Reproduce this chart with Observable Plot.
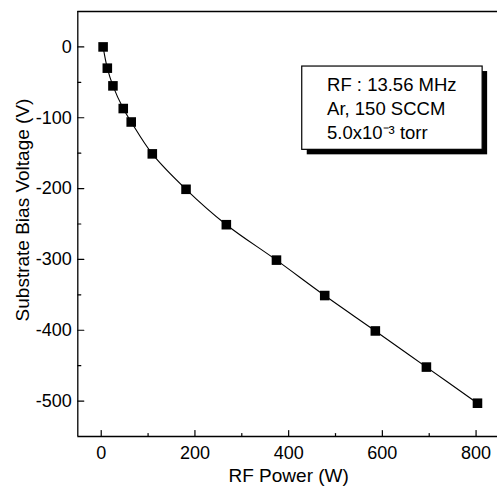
<!DOCTYPE html>
<html><head><meta charset="utf-8">
<script src="https://cdn.jsdelivr.net/npm/d3@7"></script>
<script src="https://cdn.jsdelivr.net/npm/@observablehq/plot@0.6"></script>
<style>body{margin:0;background:#fff} #chart svg{display:block}</style>
</head><body><div id="chart"></div>
<script>
const rfPower = [4, 13, 25, 47, 64, 109, 181, 267, 374, 477, 585, 694, 803];
const biasVoltage = [0, -30, -55, -87, -106, -151, -201, -251, -301, -351, -401, -452, -503];
const xMajorTicks = [0, 200, 400, 600, 800];
const xMinorTicks = [100, 300, 500, 700];
const yMajorTicks = [0, -100, -200, -300, -400, -500];
const yMinorTicks = [-50, -150, -250, -350, -450];
const xLabel = "RF Power (W)";
const yLabel = "Substrate Bias Voltage (V)";
const legendText = ["RF : 13.56 MHz", "Ar, 150 SCCM", "5.0x10\u207B\u00B3 torr"];
const legendBox = [{x1: 429, x2: 814, y1: -27.7, y2: -145.3}];
const legendAnchor = [{x: 482, y: -85}];

const data = rfPower.map((x, i) => ({x, y: biasVoltage[i]}));
const font = "'Liberation Sans', Arial, Helvetica, sans-serif";
const tickShape = {draw(context, l) { context.moveTo(0, 0); context.lineTo(0, -l); }};

const plot = Plot.plot({
  width: 497,
  height: 486,
  marginLeft: 77.3,
  marginRight: -2,
  marginTop: 11,
  marginBottom: 50,
  style: {fontFamily: font, background: "#fff", color: "#000"},
  x: {domain: [-50, 850]},
  y: {domain: [-550, 50]},
  marks: [
    // frame
    Plot.ruleY([50], {strokeWidth: 1.3}),
    Plot.ruleY([-550], {strokeWidth: 1.3}),
    Plot.ruleX([-50], {strokeWidth: 1.3}),
    // inward ticks
    Plot.vector(xMajorTicks, {x: d => d, y: -550, length: 6, rotate: 0, anchor: "start", shape: tickShape, stroke: "black", strokeWidth: 1.2}),
    Plot.vector(xMinorTicks, {x: d => d, y: -550, length: 3, rotate: 0, anchor: "start", shape: tickShape, stroke: "black", strokeWidth: 1.2}),
    Plot.vector(yMajorTicks, {x: -50, y: d => d, length: 6, rotate: 90, anchor: "start", shape: tickShape, stroke: "black", strokeWidth: 1.2}),
    Plot.vector(yMinorTicks, {x: -50, y: d => d, length: 3, rotate: 90, anchor: "start", shape: tickShape, stroke: "black", strokeWidth: 1.2}),
    // tick labels
    Plot.axisX({ticks: xMajorTicks, tickSize: 0, tickPadding: 10, fontSize: 18, label: null}),
    Plot.axisY({ticks: yMajorTicks, tickSize: 0, tickPadding: 6, fontSize: 18, label: null, tickFormat: d => String(d)}),
    // axis titles
    Plot.text([xLabel], {frameAnchor: "bottom", dy: 39, fontSize: 19, lineAnchor: "middle", fill: "black"}),
    Plot.text([yLabel], {frameAnchor: "left", dx: -55, dy: -14, rotate: -90, textAnchor: "middle", fontSize: 19, fill: "black"}),
    // data
    Plot.line(data, {x: "x", y: "y", curve: "catmull-rom", stroke: "black", strokeWidth: 1.1}),
    Plot.dot(data, {x: "x", y: "y", symbol: "square", r: 5.4, fill: "black", stroke: "none"}),
    // legend box
    Plot.rect(legendBox, {x1: "x1", x2: "x2", y1: "y1", y2: "y2", fill: "black", dx: 5, dy: 5}),
    Plot.rect(legendBox, {x1: "x1", x2: "x2", y1: "y1", y2: "y2", fill: "white", stroke: "black", strokeWidth: 1.2}),
    Plot.text(legendAnchor, {x: "x", y: "y", text: () => legendText.join("\n"), textAnchor: "start", lineAnchor: "middle", lineHeight: 1.3, fontSize: 18.5, fill: "black"})
  ]
});
document.getElementById("chart").appendChild(plot);
</script>
</body></html>
